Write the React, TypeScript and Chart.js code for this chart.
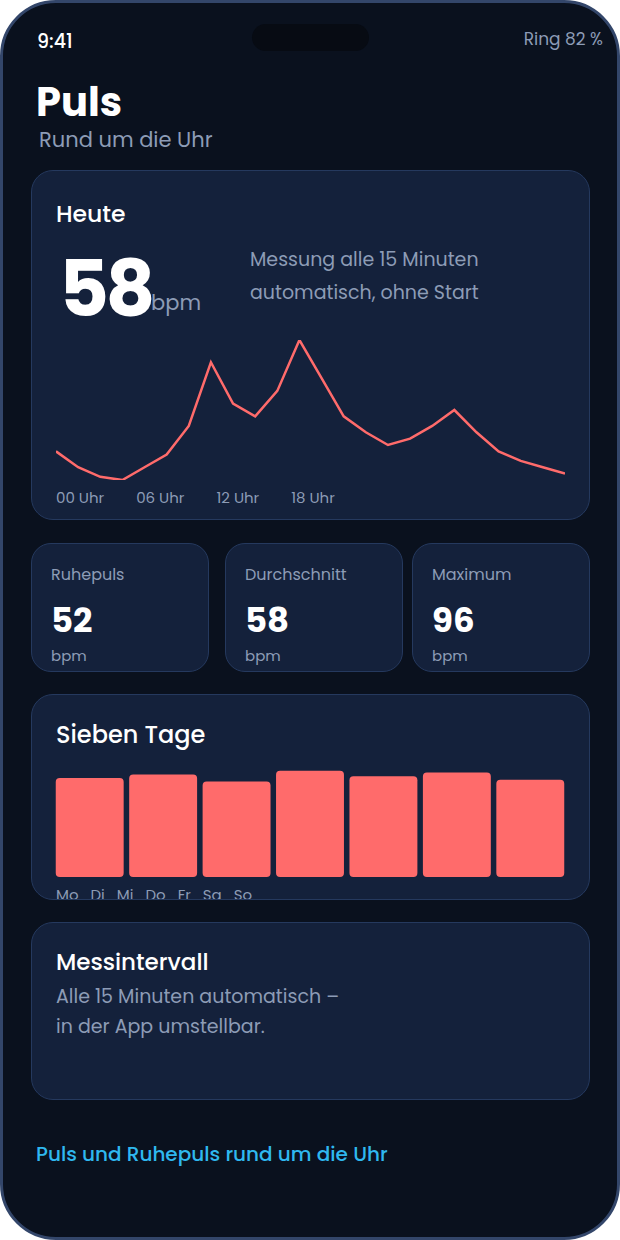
import React, { useEffect, useRef } from "react";
import { Chart, registerables } from "chart.js";

Chart.register(...registerables);

const hours: string[] = [
  "00", "01", "02", "03", "04", "05", "06", "07", "08", "09", "10", "11",
  "12", "13", "14", "15", "16", "17", "18", "19", "20", "21", "22", "23",
];
const pulseToday: number[] = [
  61, 56, 53, 52, 56, 60, 69, 89, 76, 72, 80, 96,
  84, 72, 67, 63, 65, 69, 74, 67, 61, 58, 56, 54,
];
const hourTicks: string[] = ["00 Uhr", "06 Uhr", "12 Uhr", "18 Uhr"];

const days: string[] = ["Mo", "Di", "Mi", "Do", "Fr", "Sa", "So"];
const weekRest: number[] = [55, 57, 53, 59, 56, 58, 54];

const stats: { label: string; value: string }[] = [
  { label: "Ruhepuls", value: "52" },
  { label: "Durchschnitt", value: "58" },
  { label: "Maximum", value: "96" },
];

const FONT = "Poppins, 'Open Sans', sans-serif";
const BG = "#0a111e";
const CARD = "#14213b";
const BORDER = "#25395e";
const GRAY = "#8d9cb6";
const RED = "#ff6b6b";

function LineChart() {
  const ref = useRef<HTMLCanvasElement>(null);
  useEffect(() => {
    const c = new Chart(ref.current!, {
      type: "line",
      data: {
        labels: hours,
        datasets: [
          {
            data: pulseToday,
            borderColor: RED,
            borderWidth: 2.5,
            pointRadius: 0,
            tension: 0,
            fill: false,
          },
        ],
      },
      options: {
        animation: false,
        responsive: true,
        maintainAspectRatio: false,
        layout: { padding: { top: 6, bottom: 6, left: 0, right: 0 } },
        plugins: { legend: { display: false }, tooltip: { enabled: false } },
        scales: {
          x: { display: false, offset: false },
          y: { display: false, min: 52, max: 96 },
        },
      },
    });
    return () => c.destroy();
  }, []);
  return <canvas ref={ref} />;
}

function BarChart() {
  const ref = useRef<HTMLCanvasElement>(null);
  useEffect(() => {
    const c = new Chart(ref.current!, {
      type: "bar",
      data: {
        labels: days,
        datasets: [
          {
            data: weekRest,
            backgroundColor: RED,
            borderRadius: 4,
            borderSkipped: false,
            categoryPercentage: 1,
            barPercentage: 0.925,
          },
        ],
      },
      options: {
        animation: false,
        responsive: true,
        maintainAspectRatio: false,
        layout: { padding: 0 },
        plugins: { legend: { display: false }, tooltip: { enabled: false } },
        scales: {
          x: { display: false },
          y: { display: false, min: 0, max: 60 },
        },
      },
    });
    return () => c.destroy();
  }, []);
  return <canvas ref={ref} />;
}

const abs = (o: React.CSSProperties): React.CSSProperties => ({ position: "absolute", whiteSpace: "nowrap", ...o });

const cardStyle = (left: number, top: number, width: number, height: number, r = 22): React.CSSProperties => ({
  position: "absolute",
  left,
  top,
  width,
  height,
  boxSizing: "border-box",
  background: CARD,
  border: `1px solid ${BORDER}`,
  borderRadius: r,
  overflow: "hidden",
});

export default function App() {
  const statLefts = [31, 225, 412];
  return (
    <div
      style={{
        position: "absolute",
        left: 0,
        top: 0,
        width: 620,
        height: 1240,
        boxSizing: "border-box",
        background: BG,
        border: "3px solid #33466a",
        borderRadius: 56,
        overflow: "hidden",
        fontFamily: FONT,
        color: "#ffffff",
      }}
    >
      <div style={{ position: "absolute", left: -3, top: -3, width: 620, height: 1240 }}>
        {/* status bar */}
        <div style={abs({ left: 37, top: 32, fontSize: 19, lineHeight: "19px", fontWeight: 500 })}>9:41</div>
        <div style={abs({ left: 252, top: 24, width: 117, height: 27, borderRadius: 14, background: "#070b13" })} />
        <div style={abs({ right: 17, top: 31, fontSize: 17, lineHeight: "17px", color: GRAY })}>Ring 82 %</div>

        {/* header */}
        <div style={abs({ left: 36, top: 82, fontSize: 40, lineHeight: "40px", fontWeight: 700 })}>Puls</div>
        <div style={abs({ left: 39, top: 129, fontSize: 21, lineHeight: "21px", color: GRAY })}>Rund um die Uhr</div>

        {/* Heute card */}
        <div style={cardStyle(31, 170, 559, 350)}>
          <div style={abs({ left: 24, top: 31, fontSize: 23.5, lineHeight: "23.5px", fontWeight: 500 })}>Heute</div>
          <div style={abs({ left: 27, top: 79.5, fontSize: 77, lineHeight: "77px", fontWeight: 700, letterSpacing: -3.5 })}>58</div>
          <div style={abs({ left: 119, top: 121, fontSize: 21, lineHeight: "21px", color: GRAY })}>bpm</div>
          <div style={abs({ left: 218, top: 72, fontSize: 19, lineHeight: "33px", color: GRAY })}>
            Messung alle 15 Minuten
            <br />
            automatisch, ohne Start
          </div>
          <div style={abs({ left: 24, top: 163, width: 509, height: 152 })}>
            <LineChart />
          </div>
          <div style={abs({ left: 24, top: 319, display: "flex", gap: 32, fontSize: 15, lineHeight: "15px", color: GRAY })}>
            {hourTicks.map((t) => (
              <span key={t}>{t}</span>
            ))}
          </div>
        </div>

        {/* stats */}
        {stats.map((s, i) => (
          <div key={s.label} style={cardStyle(statLefts[i], 543, 178, 129, 20)}>
            <div style={abs({ left: 19, top: 23, fontSize: 16, lineHeight: "16px", color: GRAY })}>{s.label}</div>
            <div style={abs({ left: 19, top: 59, fontSize: 34, lineHeight: "34px", fontWeight: 700 })}>{s.value}</div>
            <div style={abs({ left: 19, top: 104, fontSize: 15, lineHeight: "15px", color: GRAY })}>bpm</div>
          </div>
        ))}

        {/* Sieben Tage card */}
        <div style={cardStyle(31, 694, 559, 206)}>
          <div style={abs({ left: 24, top: 28, fontSize: 24, lineHeight: "24px", fontWeight: 500 })}>Sieben Tage</div>
          <div style={abs({ left: 21, top: 74, width: 514, height: 108 })}>
            <BarChart />
          </div>
          <div style={abs({ left: 24, top: 192, display: "flex", gap: 12, fontSize: 15, lineHeight: "15px", color: GRAY })}>
            {days.map((d) => (
              <span key={d}>{d}</span>
            ))}
          </div>
        </div>

        {/* Messintervall card */}
        <div style={cardStyle(31, 922, 559, 178)}>
          <div style={abs({ left: 24, top: 28, fontSize: 23, lineHeight: "23px", fontWeight: 500 })}>Messintervall</div>
          <div style={abs({ left: 24, top: 59, fontSize: 19, lineHeight: "30px", color: GRAY })}>
            Alle 15 Minuten automatisch –
            <br />
            in der App umstellbar.
          </div>
        </div>

        {/* footer */}
        <div style={abs({ left: 36, top: 1144, fontSize: 20, lineHeight: "20px", fontWeight: 500, color: "#2fb8ef" })}>
          Puls und Ruhepuls rund um die Uhr
        </div>
      </div>
    </div>
  );
}
